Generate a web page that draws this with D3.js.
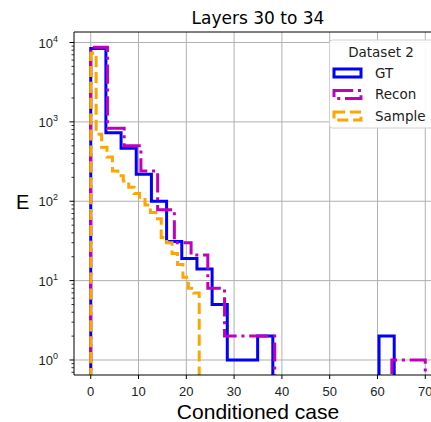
<!DOCTYPE html>
<html lang="en">
<head>
  <meta charset="UTF-8">
  <title>Layers 30 to 34</title>
  <script src="https://d3js.org/d3.v7.min.js"></script>
  <style>
    body { margin: 0; background: white; }
    svg { display: block; }
  </style>
</head>
<body>
  <svg width="431" height="422"></svg>
  <script>
    // histogram bins: [min, max] and bin count per series, counts
    const gtRange = [0, 63.5];
    const reconRange = [0, 70];
    const sampleRange = [0, 22.7];
    const nBins = 20;

    const gtCounts = [8400, 730, 464, 219, 100, 31, 19, 14, 5, 1, 1, 2, 0, 0, 0, 0, 0, 0, 0, 2];
    const reconCounts = [8700, 830, 500, 240, 78, 30, 21, 8, 2, 2, 2, 0, 0, 0, 0, 0, 0, 0, 1, 1];
    const sampleCounts = [7300, 700, 480, 360, 240, 210, 180, 150, 125, 105, 90, 72, 60, 35, 30, 22, 16, 11, 8, 7];

    const xTicks = [0, 10, 20, 30, 40, 50, 60, 70];
    const yTicks = [1, 10, 100, 1000, 10000];

    const series = [
      { name: "GT", range: gtRange, counts: gtCounts, color: "#0000ff", dash: null },
      { name: "Recon", range: reconRange, counts: reconCounts, color: "#bf00bf", dash: "19.2,4.8,3,4.8" },
      { name: "Sample", range: sampleRange, counts: sampleCounts, color: "#ffa500", dash: "11.1,4.8" }
    ];

    const svg = d3.select("svg");
    const mLeft = 74, mRight = 442, mTop = 32, mBottom = 375;

    const x = d3.scaleLinear().domain([-3.5, 73.5]).range([mLeft, mRight]);
    const y = d3.scaleLog().domain([Math.pow(10, -0.189), Math.pow(10, 4.1323)]).range([mBottom, mTop]);

    const tickFont = "'Liberation Sans', Arial, sans-serif";
    const gridColor = "#b0b0b0";

    // grid
    svg.append("g").selectAll("line").data(xTicks).join("line")
      .attr("x1", d => x(d)).attr("x2", d => x(d))
      .attr("y1", mTop).attr("y2", mBottom)
      .attr("stroke", gridColor).attr("stroke-width", 1);
    svg.append("g").selectAll("line").data(yTicks).join("line")
      .attr("x1", mLeft).attr("x2", mRight)
      .attr("y1", d => y(d)).attr("y2", d => y(d))
      .attr("stroke", gridColor).attr("stroke-width", 1);

    svg.append("clipPath").attr("id", "clip")
      .append("rect").attr("x", mLeft).attr("y", mTop)
      .attr("width", mRight - mLeft).attr("height", mBottom - mTop);

    // step outlines
    const plot = svg.append("g").attr("clip-path", "url(#clip)");
    series.forEach(s => {
      const w = (s.range[1] - s.range[0]) / nBins;
      const pts = [[x(s.range[0]), mBottom + 20]];
      s.counts.forEach((c, i) => {
        const yy = c > 0 ? y(c) : mBottom + 20;
        pts.push([x(s.range[0] + i * w), yy]);
        pts.push([x(s.range[0] + (i + 1) * w), yy]);
      });
      pts.push([x(s.range[1]), mBottom + 20]);
      plot.append("path")
        .attr("d", d3.line()(pts))
        .attr("fill", "none")
        .attr("stroke", s.color)
        .attr("stroke-width", 3)
        .attr("stroke-linejoin", "miter")
        .attr("stroke-dasharray", s.dash);
    });

    // spines
    svg.append("path")
      .attr("d", `M${mRight + 5},${mTop}H${mLeft}V${mBottom}H${mRight + 5}`)
      .attr("fill", "none").attr("stroke", "black").attr("stroke-width", 1);

    // x ticks
    const xt = svg.append("g").selectAll("g").data(xTicks).join("g")
      .attr("transform", d => `translate(${x(d)},${mBottom})`);
    xt.append("line").attr("y2", 4).attr("stroke", "black");
    xt.append("text").attr("y", 21).attr("text-anchor", "middle")
      .attr("font-family", tickFont).attr("font-size", 13).attr("fill", "#222")
      .text(d => d);

    // y ticks (major + minor)
    const minor = [];
    for (let e = -1; e <= 4; e++) {
      for (let m = 2; m <= 9; m++) {
        const v = m * Math.pow(10, e);
        if (v >= y.domain()[0] && v <= y.domain()[1]) minor.push(v);
      }
    }
    svg.append("g").selectAll("line").data(minor).join("line")
      .attr("x1", mLeft - 2.5).attr("x2", mLeft)
      .attr("y1", d => y(d)).attr("y2", d => y(d))
      .attr("stroke", "black").attr("stroke-width", 0.8);
    const yt = svg.append("g").selectAll("g").data(yTicks).join("g")
      .attr("transform", d => `translate(${mLeft},${y(d)})`);
    yt.append("line").attr("x1", -4.5).attr("stroke", "black");
    const yl = yt.append("text").attr("x", -16).attr("y", 5)
      .attr("text-anchor", "end")
      .attr("font-family", tickFont).attr("font-size", 13).attr("fill", "#222");
    yl.append("tspan").text("10");
    yl.append("tspan").attr("font-size", 9).attr("dy", -6).text(d => Math.round(Math.log10(d)));

    // title and axis labels
    svg.append("text").attr("x", (mLeft + mRight) / 2).attr("y", 24)
      .attr("text-anchor", "middle")
      .attr("font-family", "'DejaVu Sans', sans-serif").attr("font-size", 17)
      .text("Layers 30 to 34");
    svg.append("text").attr("x", (mLeft + mRight) / 2).attr("y", 419)
      .attr("text-anchor", "middle")
      .attr("font-family", tickFont).attr("font-size", 21)
      .text("Conditioned case");
    svg.append("text").attr("x", 16).attr("y", 209)
      .attr("font-family", tickFont).attr("font-size", 20)
      .text("E");

    // legend
    const lg = svg.append("g").attr("transform", "translate(329.5,40)");
    lg.append("rect").attr("width", 120).attr("height", 88).attr("rx", 3)
      .attr("fill", "white").attr("fill-opacity", 0.9)
      .attr("stroke", "#d0d0d0").attr("stroke-width", 1);
    lg.append("text").attr("x", 51.5).attr("y", 16.5).attr("text-anchor", "middle")
      .attr("font-family", "'DejaVu Sans', sans-serif").attr("font-size", 13.5)
      .attr("fill", "#222").text("Dataset 2");
    const items = lg.selectAll("g.item").data(series).join("g")
      .attr("class", "item")
      .attr("transform", (d, i) => `translate(0,${33 + i * 21.5})`);
    items.append("rect").attr("x", 4.5).attr("y", -4).attr("width", 27).attr("height", 8)
      .attr("fill", "none").attr("stroke", d => d.color).attr("stroke-width", 3)
      .attr("stroke-dasharray", d => d.dash);
    items.append("text").attr("x", 45.5).attr("y", 4.5)
      .attr("font-family", "'DejaVu Sans', sans-serif").attr("font-size", 13.5)
      .attr("fill", "#222").text(d => d.name);
  </script>
</body>
</html>
